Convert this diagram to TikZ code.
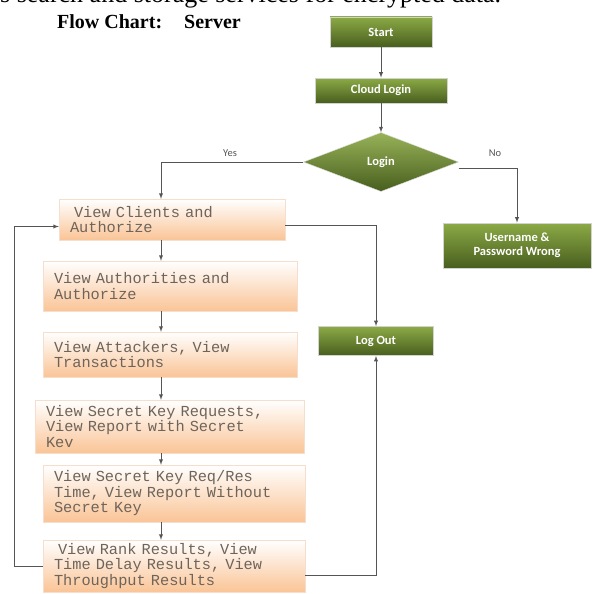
\documentclass[tikz,border=0pt]{standalone}
\usepackage{fontspec}
\setmainfont{Liberation Serif}
\newfontfamily\greenfont{Carlito}
\newfontfamily\boxfont{Liberation Mono}
\usetikzlibrary{arrows,shapes.geometric}

\definecolor{olivetop}{RGB}{140,170,70}
\definecolor{olivebot}{RGB}{72,94,30}
\definecolor{peach}{RGB}{250,196,150}
\definecolor{peachline}{RGB}{245,222,204}
\definecolor{boxtext}{RGB}{110,100,90}
\definecolor{linegray}{RGB}{85,85,85}

\tikzset{
	greenbox/.style={rectangle, draw=gray!35, line width=0.8pt, top color=olivetop, bottom color=olivebot,
		text=white, font={\greenfont\bfseries\fontsize{12.5}{14}\selectfont}, align=center, inner sep=0pt},
	decision/.style={diamond, aspect=2.6, draw=gray!25, top color=olivetop!90!white, bottom color=olivebot,
		text=white, font={\greenfont\bfseries\fontsize{12.5}{14}\selectfont}, inner sep=0pt},
	viewbox/.style={rectangle, draw=peachline, top color=white, bottom color=peach, text=boxtext,
		font={\boxfont\fontsize{15.3}{15.5}\selectfont}, align=left, inner xsep=11pt, inner ysep=0pt},
	conn/.style={->, >=latex, draw=linegray, line width=0.9pt},
	flowlabel/.style={text=linegray, font={\greenfont\fontsize{10.5}{12}\selectfont}, inner sep=1pt}
}

\begin{document}
\begin{tikzpicture}[x=1pt, y=-1pt]
	\useasboundingbox (0,0) rectangle (592,594);
	\fill[white] (0,0) rectangle (592,594);

	\node[anchor=base west, inner sep=0pt, font=\fontsize{26}{30}\selectfont] (header) at (0,3) {s search and storage services for encrypted data.};
	\node[anchor=base west, inner sep=0pt, font=\bfseries\fontsize{20}{23}\selectfont] (title) at (57,29) {Flow Chart:\hspace{22pt}Server};

	\node[greenbox, minimum width=102pt, minimum height=30pt] (start) at (381,32) {Start};
	\node[greenbox, minimum width=132pt, minimum height=25pt] (cloud) at (381,90.5) {Cloud Login};
	\node[decision, minimum width=155pt, minimum height=59pt] (login) at (381,162) {Login};
	\node[greenbox, minimum width=148pt, minimum height=45pt] (wrong) at (517,245.5) {Username \&\\Password Wrong};
	\node[greenbox, minimum width=115pt, minimum height=29pt] (logout) at (376,341) {Log Out};

	\node[flowlabel] (yes) at (230,153) {Yes};
	\node[flowlabel] (no) at (495,153) {No};

	\node[viewbox, minimum width=226pt, minimum height=41pt, text width=204pt] (b1) at (172,219.5) {\hspace*{4pt}View Clients and\\Authorize};
	\node[viewbox, minimum width=254pt, minimum height=50pt, text width=232pt] (b2) at (170,286) {View Authorities and\\Authorize};
	\node[viewbox, minimum width=254pt, minimum height=45pt, text width=232pt] (b3) at (170,354.5) {View Attackers, View\\Transactions};
	\node[viewbox, minimum width=269pt, minimum height=53pt, text width=247pt] (b4) at (169.5,426.5) {View Secret Key Requests,\\View Report with Secret\\Kev};
	\node[viewbox, minimum width=262pt, minimum height=57pt, text width=240pt] (b5) at (174,493.5) {View Secret Key Req/Res\\Time, View Report Without\\Secret Key};
	\node[viewbox, minimum width=262pt, minimum height=52pt, text width=240pt] (b6) at (174,566) {\hspace*{4pt}View Rank Results, View\\Time Delay Results, View\\Throughput Results};

	\coordinate (spine) at (161,0);
	\draw[conn] (start) -- (cloud);
	\draw[conn] (cloud) -- (login);
	\draw[conn] (login.west) -| (b1.north -| spine);
	\draw[conn] ([yshift=-6pt]login.east) -| (wrong.north);
	\foreach \a/\b in {b1/b2,b2/b3,b3/b4,b4/b5,b5/b6}
	\draw[conn] (\a.south -| spine) -- (\b.north -| spine);
	\draw[conn] ([yshift=-6pt]b1.east) -| (logout.north);
	\draw[conn] ([yshift=-9pt]b6.east) -| (logout.south);
	\draw[conn] (b6.west) -- ++(-28,0) |- ([yshift=-7pt]b1.west);
\end{tikzpicture}
\end{document}
